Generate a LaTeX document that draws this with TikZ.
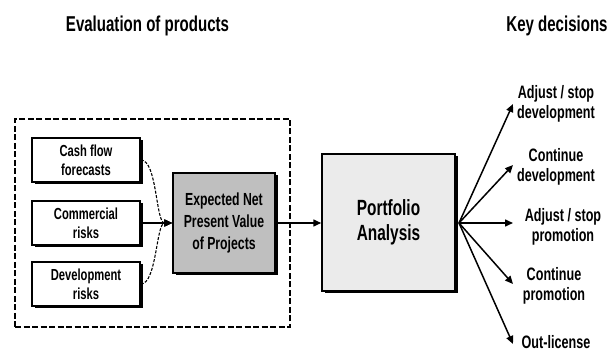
\documentclass[tikz,border=0pt]{standalone}
\usepackage{fontspec}
\setmainfont{Liberation Sans}[FakeStretch=0.7]
\usetikzlibrary{arrows.meta,shadows}

\begin{document}
\begin{tikzpicture}[x=1pt,y=-1pt,font=\bfseries,>={Triangle[length=8pt,width=7pt]},
box/.style={draw,line width=1.5pt,align=center,inner sep=1pt,drop shadow={shadow xshift=2.5pt,shadow yshift=-2.5pt,fill=black,opacity=1}},
src/.style={box,fill=white,minimum width=108pt,minimum height=44pt,font=\bfseries\fontsize{16}{19}\selectfont},
title/.style={anchor=base,font=\bfseries\fontsize{21.5}{24}\selectfont},
dec/.style={align=center,inner sep=1pt,font=\bfseries\fontsize{18}{20.5}\selectfont},
arr/.style={->,line width=1.5pt}]
\useasboundingbox (0,0) rectangle (608,352);
\node[title] (evaltitle) at (147.5,31.7) {Evaluation of products};
\node[title] (keytitle) at (557,31.7) {Key decisions};
% evaluation block
\node[draw,line width=2.6pt,dash pattern=on 6pt off 2.5pt,minimum width=275pt,minimum height=208pt] (frame) at (152.5,223) {};
\node[src] (cash) at (86,160) {Cash flow\\forecasts};
\node[src] (comm) at (86,223) {Commercial\\risks};
\node[src] (devrisk) at (86,284) {Development\\risks};
\node[box,fill=black!25,minimum width=102pt,minimum height=100pt,font=\bfseries\fontsize{17.5}{22}\selectfont] (enpv) at (224,223) {Expected Net\\Present Value\\of Projects};
\node[box,fill=black!8,minimum width=133pt,minimum height=137pt,font=\bfseries\fontsize{22}{25.5}\selectfont] (port) at (388.5,222.5) {Portfolio\\Analysis};
\draw[arr,line width=1.1pt,dash pattern=on 3pt off 1.5pt] (cash.east) to[out=0,in=180,looseness=0.6] (enpv.west);
\draw[arr,line width=1.1pt,dash pattern=on 3pt off 1.5pt] (devrisk.east) to[out=0,in=180,looseness=0.6] (enpv.west);
\draw[arr,line width=2.2pt] (comm.east) -- (enpv.west);
\draw[arr] (enpv.east) -- (enpv.east -| port.west);
% key decisions
\coordinate (fan) at (459,223);
\coordinate (t1) at (513,104);
\coordinate (t2) at (513,165);
\coordinate (t3) at (513,223);
\coordinate (t4) at (513,284);
\coordinate (t5) at (513,344);
\foreach \t in {t1,t2,t3,t4,t5}
  \draw[arr] (fan) -- (\t);
\node[dec] (adjdev) at (556,104) {Adjust / stop\\development};
\node[dec] (contdev) at (556,167) {Continue\\development};
\node[dec] (adjprom) at (563,227) {Adjust / stop\\promotion};
\node[dec] (contprom) at (554,286) {Continue\\promotion};
\node[dec] (outlic) at (556,342) {Out-license};
\end{tikzpicture}
\end{document}
